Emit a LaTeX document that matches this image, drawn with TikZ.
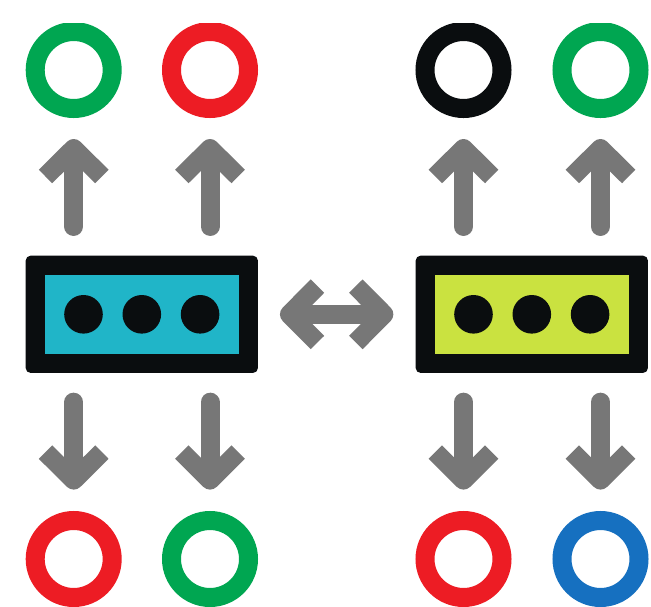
\documentclass[tikz,border=0pt]{standalone}
\usetikzlibrary{arrows.meta,calc}
\definecolor{ringgreen}{RGB}{0,166,81}
\definecolor{ringred}{RGB}{237,28,36}
\definecolor{ringblack}{RGB}{10,13,15}
\definecolor{ringblue}{RGB}{22,112,192}
\definecolor{boxcyan}{RGB}{32,181,200}
\definecolor{boxlime}{RGB}{202,226,64}
\definecolor{arrowgray}{RGB}{119,119,119}
\pgfdeclarearrow{
  name = Chev,
  setup code = {
    \pgfarrowssettipend{0pt}
    \pgfarrowssetlineend{-20pt}
    \pgfarrowssetvisualbackend{-40pt}
    \pgfarrowssetbackend{-44pt}
    \pgfarrowshullpoint{0pt}{0pt}
    \pgfarrowsupperhullpoint{-44pt}{36pt}
  },
  drawing code = {
    \pgfsetlinewidth{19pt}
    \pgfsetbuttcap
    \pgfsetroundjoin
    \pgfpathmoveto{\pgfqpoint{-37.5pt}{28.2pt}}
    \pgfpathlineto{\pgfqpoint{-9.5pt}{0pt}}
    \pgfpathlineto{\pgfqpoint{-37.5pt}{-28.2pt}}
    \pgfusepathqstroke
  }
}
\begin{document}
\begin{tikzpicture}[x=1pt,y=-1pt,
  ring/.style={circle, draw=#1, line width=19pt, minimum size=77pt, inner sep=0pt},
  box/.style={rectangle, fill=ringblack, rounded corners=5pt, minimum width=232.3pt,
    minimum height=117.3pt, inner sep=0pt, outer sep=0pt,
    path picture={
      \fill[#1, sharp corners] ([shift={(19pt,-19pt)}]path picture bounding box.north west)
        rectangle ([shift={(-19pt,19pt)}]path picture bounding box.south east);
      \fill[ringblack] (path picture bounding box.center) circle[radius=19.3pt];
      \fill[ringblack] ([xshift=-58.3pt]path picture bounding box.center) circle[radius=19.3pt];
      \fill[ringblack] ([xshift=58.3pt]path picture bounding box.center) circle[radius=19.3pt];
    }},
  garrowbase/.style={draw=arrowgray, line width=19pt, line cap=round},
  uparrow/.style={garrowbase, -{Chev}, shorten >=21pt},
  downarrow/.style={garrowbase, -{Chev}, shorten >=21.4pt},
  botharrow/.style={garrowbase, {Chev}-{Chev}, shorten <=22pt, shorten >=22.3pt}
]
\useasboundingbox (0,0) rectangle (651,606);
\fill[white] (0,0) rectangle (651,606);
\clip (0,23) rectangle (651,606);

\node[box=boxcyan] (L) at (141.8,314.3) {};
\node[box=boxlime] (R) at (531.8,314.3) {};

\node[ring=ringgreen] (t1) at (73.7,70) {};
\node[ring=ringred]   (t2) at (210,70) {};
\node[ring=ringblack] (t3) at (463.5,70) {};
\node[ring=ringgreen] (t4) at (600.5,70) {};

\node[ring=ringred]   (b1) at (73.7,559) {};
\node[ring=ringgreen] (b2) at (210,559) {};
\node[ring=ringred]   (b3) at (463.5,559) {};
\node[ring=ringblue]  (b4) at (600.5,559) {};

\draw[uparrow] ($(L.north -| t1)+(0,-29.2)$) -- (t1.south);
\draw[uparrow] ($(L.north -| t2)+(0,-29.2)$) -- (t2.south);
\draw[uparrow] ($(R.north -| t3)+(0,-29.2)$) -- (t3.south);
\draw[uparrow] ($(R.north -| t4)+(0,-29.2)$) -- (t4.south);

\draw[downarrow] ($(L.south -| b1)+(0,29.2)$) -- (b1.north);
\draw[downarrow] ($(L.south -| b2)+(0,29.2)$) -- (b2.north);
\draw[downarrow] ($(R.south -| b3)+(0,29.2)$) -- (b3.north);
\draw[downarrow] ($(R.south -| b4)+(0,29.2)$) -- (b4.north);

\draw[botharrow] (L.east) -- (R.west);
\end{tikzpicture}
\end{document}
